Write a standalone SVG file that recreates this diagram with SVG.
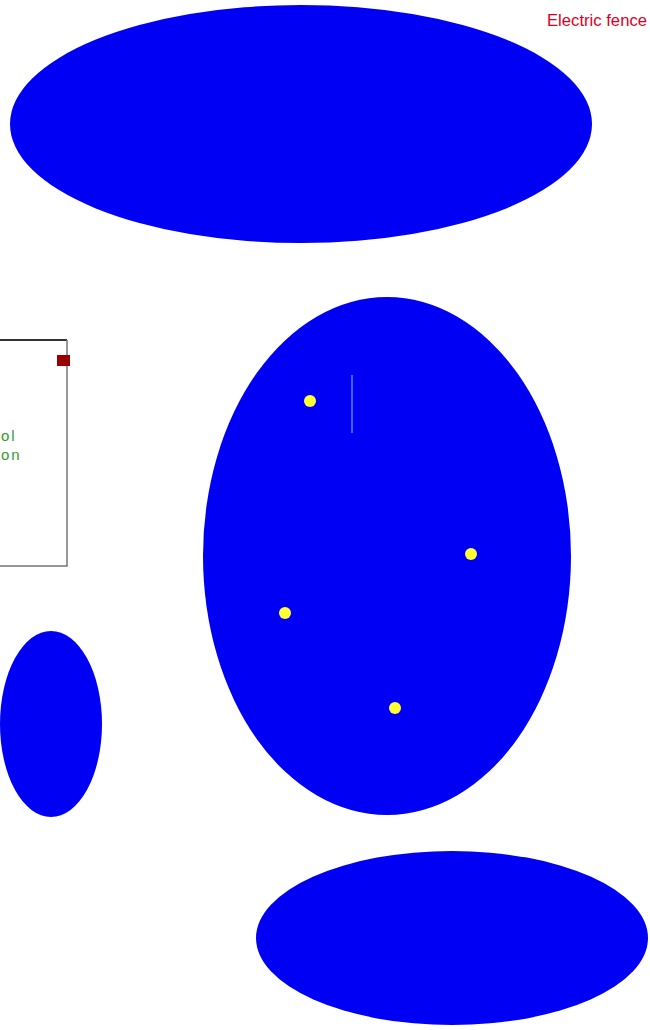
<svg xmlns="http://www.w3.org/2000/svg" width="650" height="1030" viewBox="0 0 650 1030">
<style>
.zone{fill:#0000f5;}
.dot{fill:#ffff33;}
.lbl{font-family:"Liberation Sans",Arial,sans-serif;}
.station{font-size:15px;fill:#339933;letter-spacing:2px;}
</style>
<rect width="650" height="1030" fill="#ffffff"/>
<g id="top-ellipse"><ellipse class="zone" cx="301" cy="124" rx="291" ry="119"/></g>
<g id="fence-label"><text class="lbl" x="547" y="26" font-size="17" fill="#dd0022" textLength="100" lengthAdjust="spacingAndGlyphs">Electric fence</text></g>
<g id="control-box">
<polyline points="-5,340 67,340" fill="none" stroke="#333333" stroke-width="2"/>
<polyline points="67,340 67,566 -5,566" fill="none" stroke="#777777" stroke-width="1.5"/>
<rect x="57" y="355" width="13" height="11" fill="#990000"/>
<text class="lbl station" x="1" y="441">ol</text>
<text class="lbl station" x="1" y="460">on</text>
</g>
<g id="big-ellipse">
<ellipse class="zone" cx="387" cy="556" rx="184" ry="259"/>
<line x1="352" y1="375" x2="352" y2="433" stroke="#4488ff" stroke-width="1.5"/>
<circle class="dot" cx="310" cy="401" r="6"/>
<circle class="dot" cx="471" cy="554" r="6"/>
<circle class="dot" cx="285" cy="613" r="6"/>
<circle class="dot" cx="395" cy="708" r="6"/>
</g>
<g id="left-ellipse"><ellipse class="zone" cx="51" cy="724" rx="51" ry="93"/></g>
<g id="bottom-ellipse"><ellipse class="zone" cx="452" cy="938" rx="196" ry="87"/></g>
<g id="connectors"></g>
</svg>
